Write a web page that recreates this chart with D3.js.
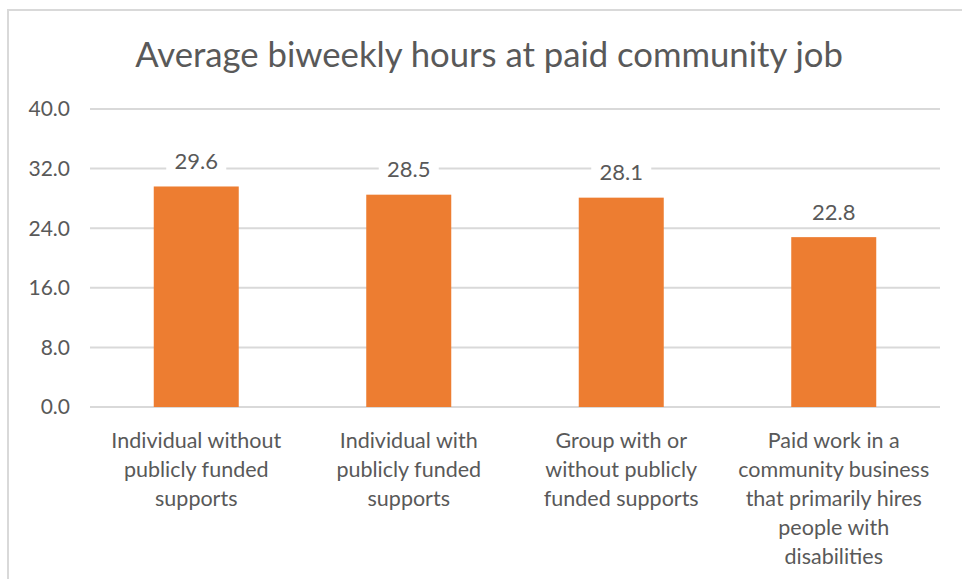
<!DOCTYPE html>
<html>
<head>
<meta charset="utf-8">
<script src="https://cdn.jsdelivr.net/npm/d3@7"></script>
<style>
  body { margin: 0; background: #fff; }
  svg { display: block; font-family: Lato, "Open Sans", sans-serif; }
</style>
</head>
<body>
<svg width="962" height="579"></svg>
<script>
// chart data
const categories = [
  ["Individual without", "publicly funded", "supports"],
  ["Individual with", "publicly funded", "supports"],
  ["Group with or", "without publicly", "funded supports"],
  ["Paid work in a", "community business", "that primarily hires", "people with", "disabilities"]
];
const hours = [29.6, 28.5, 28.1, 22.8];
const yTicks = [0, 8, 16, 24, 32, 40];

const svg = d3.select("svg");
const textColor = "#595959";
const gridColor = "#d9d9d9";

// chart frame (cropped at right and bottom)
svg.append("rect")
  .attr("x", 8).attr("y", 10)
  .attr("width", 1000).attr("height", 1000)
  .attr("fill", "none")
  .attr("stroke", gridColor)
  .attr("stroke-width", 2);

const title = svg.append("text")
  .attr("x", 489).attr("y", 67)
  .attr("text-anchor", "middle")
  .attr("font-size", 32)
  .attr("fill", textColor)
  .text("Average biweekly hours at paid community job");

// shrink/grow title so it spans the same width as the original
const tw = title.node().getComputedTextLength();
title.attr("font-size", 32 * 708 / tw);

const x = d3.scaleBand()
  .domain(d3.range(hours.length))
  .range([90, 940])
  .paddingInner(0.6)
  .paddingOuter(0.3);

const y = d3.scaleLinear()
  .domain([0, 40])
  .range([407, 109]);

// gridlines
svg.append("g")
  .selectAll("line")
  .data(yTicks)
  .enter().append("line")
  .attr("x1", 90).attr("x2", 940)
  .attr("y1", d => y(d)).attr("y2", d => y(d))
  .attr("stroke", gridColor)
  .attr("stroke-width", 2);

// y tick labels
svg.append("g")
  .selectAll("text")
  .data(yTicks)
  .enter().append("text")
  .attr("x", 70)
  .attr("y", d => y(d))
  .attr("dy", "0.35em")
  .attr("text-anchor", "end")
  .attr("font-size", 21)
  .attr("fill", textColor)
  .text(d => d.toFixed(1));

// bars
svg.append("g")
  .selectAll("rect")
  .data(hours)
  .enter().append("rect")
  .attr("x", (d, i) => x(i))
  .attr("y", d => y(d))
  .attr("width", x.bandwidth())
  .attr("height", d => y(0) - y(d))
  .attr("fill", "#ed7d31");

// data labels with white backing
const labels = svg.append("g")
  .selectAll("g")
  .data(hours)
  .enter().append("g")
  .attr("transform", (d, i) => `translate(${x(i) + x.bandwidth() / 2},${y(d) - 25})`);

labels.append("rect")
  .attr("x", -30).attr("y", -14)
  .attr("width", 60).attr("height", 28)
  .attr("fill", "#fff");

labels.append("text")
  .attr("text-anchor", "middle")
  .attr("dy", "0.35em")
  .attr("font-size", 22)
  .attr("fill", textColor)
  .text(d => d.toFixed(1));

// category labels
const cat = svg.append("g")
  .selectAll("text")
  .data(categories)
  .enter().append("text")
  .attr("x", (d, i) => x(i) + x.bandwidth() / 2)
  .attr("y", 448)
  .attr("text-anchor", "middle")
  .attr("font-size", 21.5)
  .attr("fill", textColor);

cat.selectAll("tspan")
  .data(d => d)
  .enter().append("tspan")
  .attr("x", function() { return this.parentNode.getAttribute("x"); })
  .attr("dy", (d, i) => i === 0 ? 0 : 29)
  .text(d => d);
</script>
</body>
</html>
